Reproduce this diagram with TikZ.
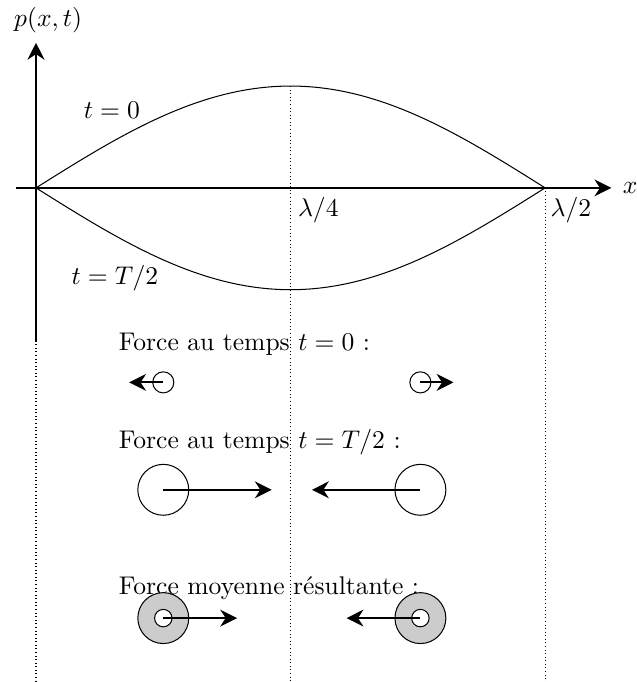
\documentclass[tikz,border=0pt]{standalone}
\usepackage{amsmath,amssymb}
\usepackage{tikz}
\usetikzlibrary{arrows.meta,positioning}

\begin{document}
\begin{tikzpicture}[x=0.7cm,y=0.7cm,
      axe/.style={-{Stealth[width'=0pt 1]},thick},
      force/.style={-{Stealth[width'=0pt 1]},thick},
      guide/.style={densely dotted},
      part/.style={circle,draw,inner sep=0pt},
      ring/.style={part,fill=gray!40,minimum size=7mm},
      txt/.style={anchor=west}]
    \useasboundingbox (-0.707,-9.705) rectangle (11.79,3.69);
    % axes et reperes
    \coordinate (o) at (0,0);
    \coordinate (xdeb) at (-0.4,0);
    \coordinate (xfin) at (11.3,0);
    \coordinate (ydeb) at (0,-3);
    \coordinate (yfin) at (0,2.85);
    \coordinate (q) at (5,0);
    \coordinate (qtop) at (5,2);
    \coordinate (h) at (10,0);
    \coordinate (obas) at (0,-9.705);
    \coordinate (qbas) at (5,-9.705);
    \coordinate (hbas) at (10,-9.705);
    \draw[guide] (ydeb) -- (obas);
    \draw[guide] (qtop) -- (qbas);
    \draw[guide] (h) -- (hbas);
    \draw[axe] (xdeb) -- (xfin);
    \draw[axe] (ydeb) -- (yfin);
    \node[right=1pt of xfin] (xlab) {$x$};
    \node at (0.24,3.3) (plab) {$p(x,t)$};
    % profils de pression
    \draw plot[domain=0:10,samples=80,smooth] (\x,{2*sin(18*\x)});
    \draw plot[domain=0:10,samples=80,smooth] (\x,{-2*sin(18*\x)});
    \node at (1.49,1.53) (t0) {$t=0$};
    \node at (1.55,-1.77) (tT) {$t=T/2$};
    \node[anchor=north west] at (4.97,0) (lq) {$\lambda/4$};
    \node[anchor=north west] at (9.93,0) (lh) {$\lambda/2$};
    % forces
    \node[txt] at (1.45,-3.08) (f1) {Force au temps $t=0$ :};
    \node[part,minimum size=2.9mm] at (2.5,-3.82) (a1) {};
    \node[part,minimum size=2.9mm] at (7.55,-3.82) (b1) {};
    \coordinate (a1f) at (1.83,-3.82);
    \coordinate (b1f) at (8.2,-3.82);
    \draw[force] (a1.center) -- (a1f);
    \draw[force] (b1.center) -- (b1f);

    \node[txt] at (1.45,-4.99) (f2) {Force au temps $t=T/2$ :};
    \node[part,minimum size=7mm] at (2.5,-5.93) (a2) {};
    \node[part,minimum size=7mm] at (7.55,-5.93) (b2) {};
    \coordinate (a2f) at (4.63,-5.93);
    \coordinate (b2f) at (5.42,-5.93);
    \draw[force] (a2.center) -- (a2f);
    \draw[force] (b2.center) -- (b2f);

    \node[txt] at (1.45,-7.86) (f3) {Force moyenne r\'esultante :};
    \node[ring] at (2.5,-8.45) (a3) {};
    \node[ring] at (7.55,-8.45) (b3) {};
    \node[part,fill=white,minimum size=2.4mm] at (a3) (a3i) {};
    \node[part,fill=white,minimum size=2.4mm] at (b3) (b3i) {};
    \coordinate (a3f) at (3.95,-8.45);
    \coordinate (b3f) at (6.1,-8.45);
    \draw[force] (a3.center) -- (a3f);
    \draw[force] (b3.center) -- (b3f);
  \end{tikzpicture}
\end{document}
